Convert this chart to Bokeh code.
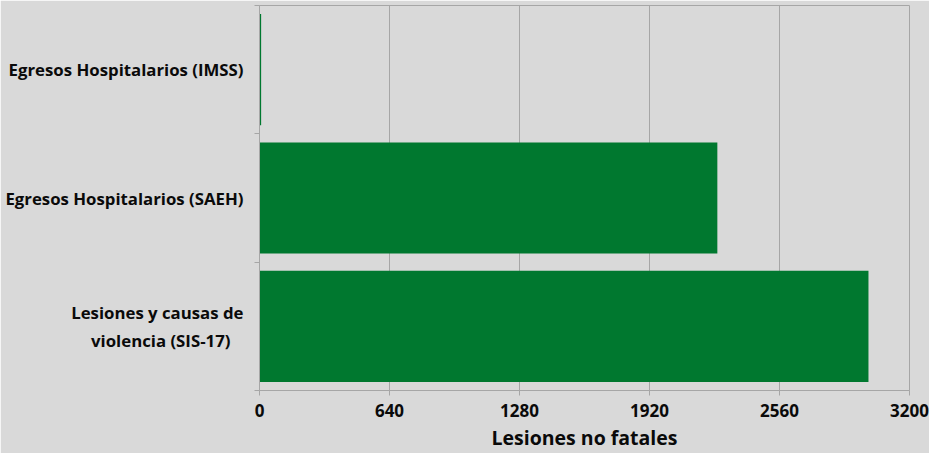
from bokeh.plotting import figure
from bokeh.models import Range1d, FixedTicker
from bokeh.embed import file_html
from bokeh.resources import INLINE

categories = ["Egresos Hospitalarios (IMSS)", "Egresos Hospitalarios (SAEH)",
              "Lesiones y causas de\nviolencia (SIS-17)\u00a0\u00a0\u00a0"]
values = [8, 2254, 2998]
x_ticks = [0, 640, 1280, 1920, 2560, 3200]

BG = "#d9d9d9"
GREEN = "#00782f"
FONT = "Open Sans"
LINE = "#a6a6a6"
TXT = "#0a0a0a"

n = len(categories)
ypos = [n - 0.5 - i for i in range(n)]

p = figure(width=929, height=453, output_backend="svg", toolbar_location=None,
           x_range=Range1d(0, 3200), y_range=Range1d(0, n),
           min_border_left=259, min_border_right=20, min_border_top=5, min_border_bottom=50)
p.background_fill_color = BG
p.border_fill_color = BG
p.outline_line_color = LINE
p.outline_line_width = 1

p.hbar(y=ypos, right=values, left=0, height=0.866, fill_color=GREEN, line_color=None)

p.xaxis.ticker = FixedTicker(ticks=x_ticks)
p.xaxis.axis_label = "Lesiones no fatales"
p.xaxis.axis_label_text_font = FONT
p.xaxis.axis_label_text_font_style = "bold"
p.xaxis.axis_label_text_font_size = "19.5px"
p.xaxis.axis_label_text_color = TXT
p.xaxis.axis_label_standoff = 4
p.xaxis.major_label_text_font = FONT
p.xaxis.major_label_text_font_style = "bold"
p.xaxis.major_label_text_font_size = "17px"
p.xaxis.major_label_text_color = TXT
p.xaxis.major_label_standoff = 8
p.xaxis.axis_line_color = LINE
p.xaxis.major_tick_line_color = LINE
p.xaxis.major_tick_out = 5
p.xaxis.major_tick_in = 0
p.xaxis.minor_tick_line_color = None

p.yaxis.ticker = FixedTicker(ticks=ypos, minor_ticks=list(range(n + 1)))
p.yaxis.major_label_overrides = {y: c for y, c in zip(ypos, categories)}
p.yaxis.major_label_text_font = FONT
p.yaxis.major_label_text_font_style = "bold"
p.yaxis.major_label_text_font_size = "16.8px"
p.yaxis.major_label_text_color = TXT
p.yaxis.major_label_standoff = 10
p.yaxis.major_tick_line_color = None
p.yaxis.minor_tick_line_color = LINE
p.yaxis.minor_tick_out = 5
p.yaxis.minor_tick_in = 0
p.yaxis.axis_line_color = LINE

p.xgrid.ticker = FixedTicker(ticks=x_ticks)
p.xgrid.grid_line_color = LINE
p.ygrid.grid_line_color = None

open("out.html", "w").write(file_html(p, INLINE))
